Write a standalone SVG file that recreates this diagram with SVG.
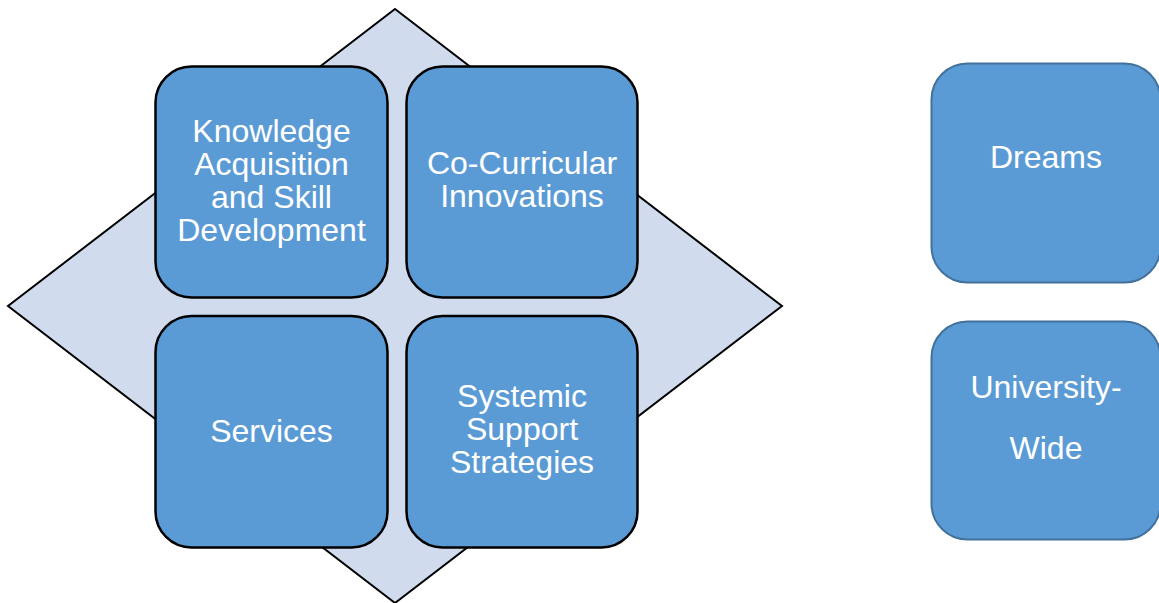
<svg xmlns="http://www.w3.org/2000/svg" width="1159" height="603" viewBox="0 0 1159 603">
  <style>
    .box { fill: #5B9BD5; stroke: #000000; stroke-width: 2.5; }
    .side { fill: #5B9BD5; stroke: #41719C; stroke-width: 2; }
    .label { font-family: "Liberation Sans", Arial, sans-serif; font-size: 32px; fill: #FFFFFF; text-anchor: middle; }
  </style>
  <rect width="1159" height="603" fill="#FFFFFF"/>

  <!-- backdrop diamond -->
  <g id="diamond">
    <polygon points="395,9 782,306 395,603 8,306" fill="#D0DCEE" stroke="#000000" stroke-width="2"/>
  </g>

  <!-- no connectors in this figure -->
  <g id="connectors"></g>

  <g id="knowledge">
    <rect class="box" x="155.5" y="66.5" width="232" height="231" rx="36" ry="36"/>
    <text class="label" x="271.5" y="142">Knowledge</text>
    <text class="label" x="271.5" y="175">Acquisition</text>
    <text class="label" x="271.5" y="208">and Skill</text>
    <text class="label" x="271.5" y="241">Development</text>
  </g>

  <g id="cocurricular">
    <rect class="box" x="406.5" y="66.5" width="231" height="231" rx="36" ry="36"/>
    <text class="label" x="522" y="174">Co-Curricular</text>
    <text class="label" x="522" y="207">Innovations</text>
  </g>

  <g id="services">
    <rect class="box" x="155.5" y="316" width="232" height="231.5" rx="36" ry="36"/>
    <text class="label" x="271.5" y="442">Services</text>
  </g>

  <g id="systemic">
    <rect class="box" x="406.5" y="316" width="231" height="231.5" rx="36" ry="36"/>
    <text class="label" x="522" y="407">Systemic</text>
    <text class="label" x="522" y="440">Support</text>
    <text class="label" x="522" y="473">Strategies</text>
  </g>

  <g id="dreams">
    <rect class="side" x="931.5" y="63.5" width="229" height="219" rx="36" ry="36"/>
    <text class="label" x="1046" y="168">Dreams</text>
  </g>

  <g id="university">
    <rect class="side" x="931.5" y="321.5" width="229" height="218" rx="36" ry="36"/>
    <text class="label" x="1046" y="398">University-</text>
    <text class="label" x="1046" y="459">Wide</text>
  </g>
</svg>
